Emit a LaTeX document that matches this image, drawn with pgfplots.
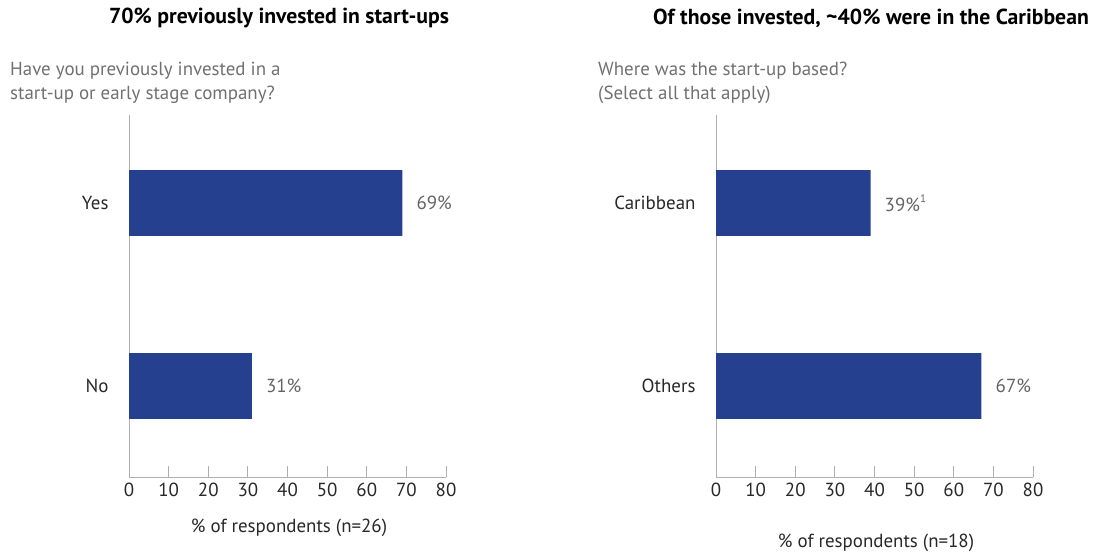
\documentclass[border=0pt]{standalone}
\usepackage{fontspec}
\setmainfont{PT Sans}
\usepackage{pgfplots}
\pgfplotsset{compat=1.18}
\definecolor{barblue}{RGB}{37,64,143}
\definecolor{axisgray}{RGB}{175,175,175}
\definecolor{subgray}{RGB}{112,112,112}
\definecolor{valgray}{RGB}{100,100,100}
\definecolor{darktext}{RGB}{40,40,40}
\pgfplotsset{
  panel/.style={
    anchor=south west, scale only axis, width=317bp, height=362bp,
    xmin=0, xmax=80, ymin=-0.497, ymax=1.481,
    axis lines*=left,
    axis line style={draw=axisgray, line width=1bp},
    xtick={0,10,...,80}, tick align=inside, major tick length=11bp,
    x tick style={draw=axisgray, line width=1bp},
    ytick={0,1}, y tick style={draw=none},
    /pgf/number format/assume math mode=true,
    xticklabel style={font=\fontsize{19}{22}\selectfont, text=darktext, yshift=-2bp},
    yticklabel style={font=\fontsize{19}{22}\selectfont, text=darktext, xshift=-6bp},
    xbar, bar width=0.36,
    clip=false,
    point meta=explicit symbolic,
    nodes near coords,
    nodes near coords style={anchor=west, inner sep=0pt, xshift=14bp, font=\fontsize{19}{22}\selectfont, text=valgray},
  }
}
\begin{document}
\begin{tikzpicture}
\path[use as bounding box] (0,0) rectangle (1097bp,-554bp);
% titles
\node[font=\bfseries\fontsize{21.8}{25}\selectfont, text=black] at (279bp,-18bp) {70\% previously invested in start-ups};
\node[font=\bfseries\fontsize{21.8}{25}\selectfont, text=black] at (871bp,-18bp) {Of those invested, \textasciitilde40\% were in the Caribbean};
% subtitles
\node[anchor=base west, inner sep=0pt, align=left, font=\fontsize{19}{24}\selectfont, text=subgray] at (10bp,-99bp) {Have you previously invested in a\\start-up or early stage company?};
\node[anchor=base west, inner sep=0pt, align=left, font=\fontsize{19}{24}\selectfont, text=subgray] at (598bp,-99bp) {Where was the start-up based?\\(Select all that apply)};
% x labels
\node[font=\fontsize{19}{22}\selectfont, text=darktext] at (289bp,-528bp) {\% of respondents (n=26)};
\node[font=\fontsize{19}{22}\selectfont, text=darktext] at (876bp,-543bp) {\% of respondents (n=18)};

\begin{axis}[panel, at={(129bp,-477bp)}, yticklabels={No,Yes}]
\addplot[fill=barblue, draw=none] coordinates {(31,0) [31\%] (69,1) [69\%]};
\end{axis}

\begin{axis}[panel, at={(716bp,-477bp)}, yticklabels={Others,Caribbean}]
\addplot[fill=barblue, draw=none] coordinates {(67,0) [67\%] (39,1) [39\%\raisebox{0.45em}{\fontsize{11}{12}\selectfont 1}]};
\end{axis}
\end{tikzpicture}
\end{document}
